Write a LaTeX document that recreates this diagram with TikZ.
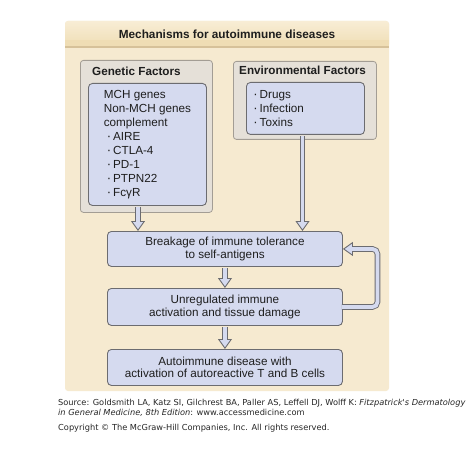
\documentclass[tikz,border=0pt]{standalone}
\usepackage{fontspec}
\setmainfont{Liberation Sans}
\newfontfamily\footfont{DejaVu Sans}
\usetikzlibrary{arrows.meta}
\definecolor{panelbg}{HTML}{F6EAD0}
\definecolor{headtop}{HTML}{F8EDD5}
\definecolor{headbot}{HTML}{EFDDB4}
\definecolor{headline}{HTML}{D6C199}
\definecolor{graybox}{HTML}{E5E0D8}
\definecolor{grayline}{HTML}{A39D94}
\definecolor{boxblue}{HTML}{D5DAEF}
\definecolor{boxline}{HTML}{6C6C70}
\definecolor{txt}{HTML}{1E1E1E}
\tikzset{
  outerbox/.style={draw=grayline, fill=graybox, line width=0.8pt, rounded corners=3pt, anchor=north west, inner sep=0pt},
  bluebox/.style={draw=boxline, fill=boxblue, line width=0.9pt, rounded corners=4pt, anchor=north west, inner sep=0pt, text=txt},
  flowbox/.style={bluebox, minimum width=235pt, align=center, font=\fontsize{11.7}{12.6}\selectfont},
  titletext/.style={font=\fontsize{11.7}{13}\selectfont\bfseries, text=txt, inner sep=0pt, anchor=west},
  harrow/.style={draw=boxline, line width=5.6pt, -{Triangle[length=10pt,width=14pt,fill=boxblue,line width=0.9pt]},
     postaction={draw=boxblue, line width=3.8pt, -, shorten >=8.3pt}},
  footnode/.style={font=\footfont\fontsize{8.25}{9}\selectfont, text=black!85, inner sep=0pt, anchor=west}
}
\newcommand{\bul}{{\fontsize{13}{13}\selectfont\raisebox{-0.2pt}{·}}\,}
\begin{document}
\begin{tikzpicture}[x=1pt,y=-1pt]
\useasboundingbox[fill=white] (0,0) rectangle (473,449);
% panel
\fill[panelbg, rounded corners=3pt] (65,21) rectangle (389,391);
\shade[top color=headtop, bottom color=headbot, rounded corners=3pt] (65,21) rectangle (389,47);
\fill[headbot] (65,40) rectangle (389,47);
\draw[headline, line width=1.2pt] (65,47) -- (389,47);
\node[font=\fontsize{11.8}{13}\selectfont\bfseries, text=txt, inner sep=0pt] (head) at (227,34) {Mechanisms for autoimmune diseases};
% genetic factors
\node[outerbox, minimum width=132pt, minimum height=152pt] (go) at (80,60) {};
\node[titletext] (gt) at (92,71) {Genetic Factors};
\node[bluebox, minimum width=118pt, minimum height=122pt, align=left, font=\fontsize{11.7}{14}\selectfont] (gi) at (88,83)
  {MCH genes\\Non-MCH genes\\complement\\\hspace{3pt}\bul AIRE\\\hspace{3pt}\bul CTLA-4\\\hspace{3pt}\bul PD-1\\\hspace{3pt}\bul PTPN22\\\hspace{3pt}\bul FcγR};
% environmental factors
\node[outerbox, minimum width=143pt, minimum height=78pt] (eo) at (233,61) {};
\node[titletext] (et) at (239,70) {Environmental Factors};
\node[bluebox, minimum width=118pt, minimum height=52pt, inner xsep=7pt, text width=104pt, align=left, font=\fontsize{11.7}{14}\selectfont] (ei) at (246,82)
  {\bul Drugs\\\bul Infection\\\bul Toxins};
% flow boxes
\node[flowbox, minimum height=35pt] (br) at (107,231) {Breakage of immune tolerance\\to self-antigens};
\node[flowbox, minimum height=37pt] (un) at (107,288) {Unregulated immune\\activation and tissue damage};
\node[flowbox, minimum height=36pt] (au) at (107,349) {Autoimmune disease with\\activation of autoreactive T and B cells};
% arrows
\coordinate (ga) at (138,0);
\coordinate (ea) at (302.5,0);
\coordinate (fb) at (377.5,0);
\draw[harrow] ([yshift=-1pt]gi.south -| ga) -- (br.north -| ga);
\draw[harrow] ([yshift=-1pt]ei.south -| ea) -- (br.north -| ea);
\draw[harrow] ([yshift=-1pt]br.south) -- (un.north);
\draw[harrow] ([yshift=-1pt]un.south) -- (au.north);
\draw[harrow, rounded corners=5pt] ([xshift=-1pt]un.east) -- (un.east -| fb) |- (br.east);
% footer
\node[footnode] (src) at (58,403) {Source: Goldsmith LA, Katz SI, Gilchrest BA, Paller AS, Leffell DJ, Wolff K: \textit{Fitzpatrick's Dermatology}};
\node[footnode] (src2) at (58,412.5) {\textit{in General Medicine, 8th Edition}: www.accessmedicine.com};
\node[footnode] (copy) at (58,428.5) {Copyright © The McGraw-Hill Companies, Inc. All rights reserved.};
\end{tikzpicture}
\end{document}
